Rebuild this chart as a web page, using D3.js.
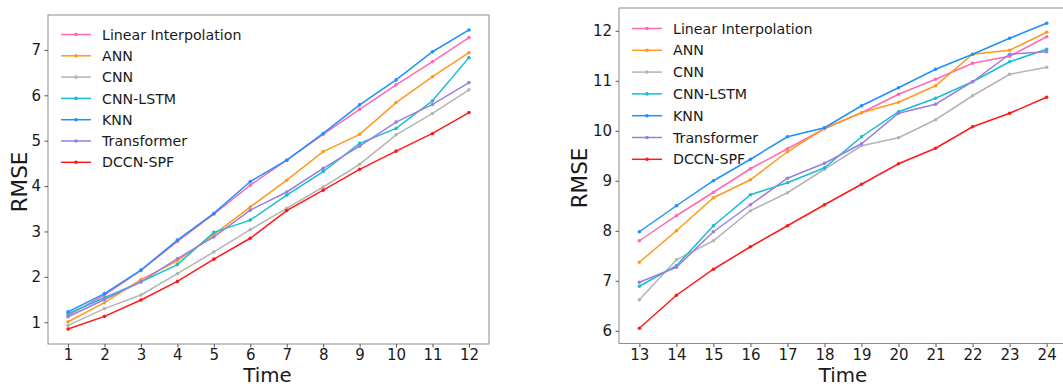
<!DOCTYPE html>
<html>
<head>
<meta charset="utf-8">
<script src="https://cdn.jsdelivr.net/npm/d3@7"></script>
<style>
  body { margin: 0; background: #fff; }
  text { font-family: "DejaVu Sans", sans-serif; fill: #1a1a1a; }
  .tick text { font-size: 15px; }
  .domain { display: none; }
</style>
</head>
<body>
<script>
// models, in legend order
var models = ["Linear Interpolation", "ANN", "CNN", "CNN-LSTM", "KNN", "Transformer", "DCCN-SPF"];
var colors = ["#ff69b4", "#ff9a1f", "#b4b4b4", "#17becf", "#1e90ff", "#9b7ee0", "#ff1a1a"];

// time steps 1..12 (left) and 13..24 (right)
var timeA = [1, 2, 3, 4, 5, 6, 7, 8, 9, 10, 11, 12];
var timeB = [13, 14, 15, 16, 17, 18, 19, 20, 21, 22, 23, 24];

// RMSE values, per model
var rmseA = [
  [1.15, 1.60, 2.14, 2.78, 3.38, 4.02, 4.57, 5.14, 5.69, 6.23, 6.74, 7.27],
  [1.01, 1.43, 1.94, 2.35, 2.93, 3.54, 4.13, 4.76, 5.14, 5.84, 6.41, 6.94],
  [0.93, 1.30, 1.60, 2.07, 2.55, 3.04, 3.51, 3.98, 4.48, 5.13, 5.60, 6.12],
  [1.19, 1.54, 1.89, 2.27, 2.98, 3.25, 3.80, 4.32, 4.94, 5.27, 5.88, 6.83],
  [1.23, 1.63, 2.15, 2.81, 3.40, 4.10, 4.57, 5.16, 5.79, 6.34, 6.96, 7.44],
  [1.12, 1.50, 1.89, 2.40, 2.88, 3.47, 3.87, 4.39, 4.88, 5.41, 5.80, 6.28],
  [0.85, 1.13, 1.49, 1.90, 2.39, 2.85, 3.46, 3.91, 4.37, 4.77, 5.16, 5.62]
];
var rmseB = [
  [7.80, 8.30, 8.77, 9.24, 9.64, 10.04, 10.36, 10.73, 11.03, 11.35, 11.49, 11.88],
  [7.37, 8.00, 8.66, 9.02, 9.58, 10.05, 10.36, 10.57, 10.90, 11.53, 11.61, 11.97],
  [6.62, 7.42, 7.80, 8.40, 8.76, 9.23, 9.70, 9.86, 10.22, 10.70, 11.13, 11.27],
  [6.89, 7.30, 8.10, 8.72, 8.96, 9.26, 9.88, 10.38, 10.65, 10.98, 11.38, 11.63],
  [7.98, 8.50, 9.00, 9.43, 9.88, 10.06, 10.50, 10.86, 11.23, 11.53, 11.85, 12.15],
  [6.97, 7.27, 7.98, 8.52, 9.05, 9.35, 9.74, 10.35, 10.53, 10.98, 11.53, 11.58],
  [6.05, 6.71, 7.23, 7.68, 8.10, 8.52, 8.93, 9.34, 9.65, 10.08, 10.35, 10.67]
];

var svg = d3.select("body").append("svg")
    .attr("width", 1063)
    .attr("height", 387);

function drawPanel(opt) {
  var times = opt.times, series = opt.series;
  var all = d3.merge(series);
  var xPad = (d3.max(times) - d3.min(times)) * 0.05;
  var yMin = d3.min(all), yMax = d3.max(all), yPad = (yMax - yMin) * 0.05;

  var x = d3.scaleLinear()
      .domain([d3.min(times) - xPad, d3.max(times) + xPad])
      .range([opt.left, opt.right]);
  var y = d3.scaleLinear()
      .domain([yMin - yPad, yMax + yPad])
      .range([opt.bottom, opt.top]);

  var g = svg.append("g");

  // frame
  g.append("rect")
      .attr("x", opt.left).attr("y", opt.top)
      .attr("width", opt.right - opt.left)
      .attr("height", opt.bottom - opt.top)
      .attr("fill", "none")
      .attr("stroke", "#8c8c8c")
      .attr("stroke-width", 1);

  // axes
  var xAxis = d3.axisBottom(x).tickValues(times).tickFormat(d3.format("d"))
      .tickSize(3.5).tickPadding(2);
  g.append("g")
      .attr("transform", "translate(0," + opt.bottom + ")")
      .call(xAxis)
      .selectAll(".tick line").attr("stroke", "#555");

  var yAxis = d3.axisLeft(y).tickValues(opt.yTicks).tickFormat(d3.format("d"))
      .tickSize(3.5).tickPadding(3.5);
  g.append("g")
      .attr("transform", "translate(" + opt.left + ",0)")
      .call(yAxis)
      .selectAll(".tick line").attr("stroke", "#555");

  // labels
  g.append("text")
      .attr("x", (opt.left + opt.right) / 2 - opt.timeShift)
      .attr("y", 382.2)
      .attr("text-anchor", "middle")
      .style("font-size", "19.8px")
      .text("Time");

  g.append("text")
      .attr("transform", "translate(" + opt.rmseX + "," + opt.rmseY + ") rotate(-90)")
      .attr("text-anchor", "middle")
      .style("font-size", "21.5px")
      .text("RMSE");

  // lines
  var line = d3.line()
      .x(function(d, i) { return x(times[i]); })
      .y(function(d) { return y(d); });

  series.forEach(function(vals, k) {
    g.append("path")
        .datum(vals)
        .attr("d", line)
        .attr("fill", "none")
        .attr("stroke", colors[k])
        .attr("stroke-width", 1.5);
    g.selectAll(".dot" + k)
        .data(vals)
        .enter().append("circle")
        .attr("cx", function(d, i) { return x(times[i]); })
        .attr("cy", function(d) { return y(d); })
        .attr("r", 1.8)
        .attr("fill", colors[k]);
  });

  // legend
  var leg = g.append("g");
  models.forEach(function(name, k) {
    var ly = opt.legY + k * opt.legStep;
    leg.append("line")
        .attr("x1", opt.legX).attr("x2", opt.legX + 30)
        .attr("y1", ly).attr("y2", ly)
        .attr("stroke", colors[k]).attr("stroke-width", 1.5);
    leg.append("circle")
        .attr("cx", opt.legX + 15).attr("cy", ly).attr("r", 1.8)
        .attr("fill", colors[k]);
    leg.append("text")
        .attr("x", opt.legX + 41)
        .attr("y", ly)
        .attr("dy", "0.36em")
        .style("font-size", "14.2px")
        .text(name);
  });
}

drawPanel({
  times: timeA, series: rmseA, yTicks: [1, 2, 3, 4, 5, 6, 7],
  left: 48, right: 489, top: 15, bottom: 344,
  rmseX: 27, rmseY: 182, timeShift: 1,
  legX: 61, legY: 34.5, legStep: 21.3
});

drawPanel({
  times: timeB, series: rmseB, yTicks: [6, 7, 8, 9, 10, 11, 12],
  left: 619, right: 1067, top: 8, bottom: 343.5,
  rmseX: 587, rmseY: 178, timeShift: 0,
  legX: 632, legY: 28.5, legStep: 21.8
});
</script>
</body>
</html>
